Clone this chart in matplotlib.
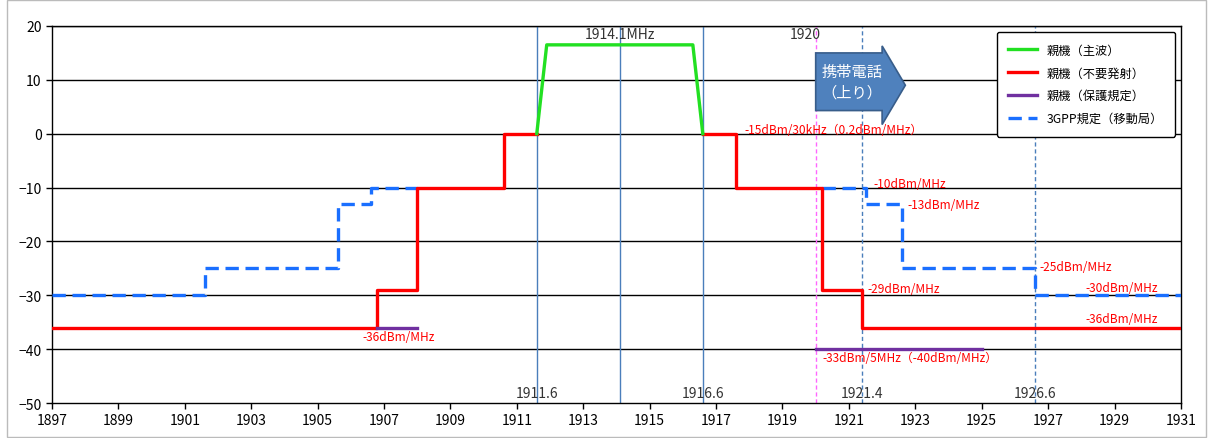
import matplotlib
import matplotlib.pyplot as plt
import matplotlib.patches as mpatches
from matplotlib.lines import Line2D
import numpy as np

plt.rcParams['font.family'] = ['Noto Sans CJK JP', 'DejaVu Sans']
plt.rcParams['font.size'] = 10

# main carrier (green)
main_x = [1911.6, 1911.9, 1916.3, 1916.6]
main_y = [0, 16.5, 16.5, 0]

# spurious emission of base unit (red), step edges and levels
spur_lo_x = [1897, 1906.8, 1908, 1910.6, 1911.6]
spur_lo_y = [-36, -29, -10, 0, 0]
spur_hi_x = [1916.6, 1917.6, 1920.2, 1921.4, 1931]
spur_hi_y = [0, -10, -29, -36, -36]

# protection limit (purple)
prot_segments = [([1906.8, 1908], -36), ([1920, 1925], -40)]

# 3GPP mobile station limit (blue dashed)
gpp_lo_x = [1897, 1901.6, 1905.6, 1906.6, 1908]
gpp_lo_y = [-30, -25, -13, -10, -10]
gpp_hi_x = [1920.2, 1921.5, 1922.6, 1926.6, 1931]
gpp_hi_y = [-10, -13, -25, -30, -30]

# marker frequencies
solid_marks = [1911.6, 1914.1, 1916.6]
dashed_marks = [1921.4, 1926.6]
uplink_start = 1920

labels = ['親機（主波）', '親機（不要発射）', '親機（保護規定）', '3GPP規定（移動局）']
c_green, c_red, c_purple, c_blue = '#22e022', '#ff0000', '#7030a0', '#1a6fff'
c_mark = '#4a7ebb'

fig = plt.figure(figsize=(12.11, 4.39), dpi=100)
ax = fig.add_axes([0.0429, 0.0797, 0.9323, 0.8588])

for y in range(-40, 21, 10):
    ax.axhline(y, color='black', lw=1.0, zorder=1)

for x in solid_marks:
    ax.axvline(x, color=c_mark, lw=1.0, zorder=2)
for x in dashed_marks:
    ax.axvline(x, color=c_mark, lw=1.0, ls=(0, (3, 2)), zorder=2)
ax.axvline(uplink_start, color='#ff66ff', lw=1.0, ls=(0, (3, 2)), zorder=2)

lw = 2.4
ax.plot(spur_lo_x, spur_lo_y, drawstyle='steps-post', color=c_red, lw=lw, zorder=4)
ax.plot(spur_hi_x, spur_hi_y, drawstyle='steps-post', color=c_red, lw=lw, zorder=4)
ax.plot(main_x, main_y, color=c_green, lw=lw, zorder=5)
for xs, lev in prot_segments:
    ax.plot(xs, [lev, lev], color=c_purple, lw=lw, zorder=4)
dash = (0, (4, 2))
ax.plot(gpp_lo_x, gpp_lo_y, drawstyle='steps-post', color=c_blue, lw=lw, ls=dash, zorder=3)
ax.plot(gpp_hi_x, gpp_hi_y, drawstyle='steps-post', color=c_blue, lw=lw, ls=dash, zorder=3)

# frequency labels
gk = dict(ha='center', va='center', color='#333333')
ax.text(1911.6, -48.1, '1911.6', **gk)
ax.text(1916.6, -48.1, '1916.6', **gk)
ax.text(1921.4, -48.1, '1921.4', **gk)
ax.text(1926.6, -48.1, '1926.6', **gk)
ax.text(1914.1, 18.5, '1914.1MHz', **gk)
ax.text(1919.7, 18.5, '1920', **gk)

# red annotations
rk = dict(color=c_red, fontsize=8.6, va='center')
ax.text(1917.85, 0.7, '-15dBm/30kHz（0.2dBm/MHz）', ha='left', **rk)
ax.text(1921.75, -9.3, '-10dBm/MHz', ha='left', **rk)
ax.text(1922.75, -13.2, '-13dBm/MHz', ha='left', **rk)
ax.text(1926.75, -24.6, '-25dBm/MHz', ha='left', **rk)
ax.text(1921.55, -28.8, '-29dBm/MHz', ha='left', **rk)
ax.text(1930.3, -28.6, '-30dBm/MHz', ha='right', **rk)
ax.text(1930.3, -34.4, '-36dBm/MHz', ha='right', **rk)
ax.text(1920.2, -41.6, '-33dBm/5MHz（-40dBm/MHz）', ha='left', **rk)
ax.text(1906.35, -37.7, '-36dBm/MHz', ha='left', **rk)

# uplink arrow
arrow_pts = [(1920.0, 15.0), (1922.0, 15.0), (1922.0, 16.3), (1922.7, 9.0),
             (1922.0, 1.7), (1922.0, 4.3), (1920.0, 4.3)]
ax.add_patch(mpatches.Polygon(arrow_pts, closed=True, facecolor='#4f81bd',
                              edgecolor='#385d8a', lw=1.2, zorder=6))
ax.text(1921.1, 9.6, '携帯電話\n（上り）', ha='center', va='center', color='white',
        fontsize=11, linespacing=1.25, zorder=7)

ax.set_xlim(1897, 1931)
ax.set_ylim(-50, 20)
ax.set_xticks(np.arange(1897, 1932, 2))
ax.set_yticks(np.arange(-50, 21, 10))
ax.tick_params(direction='out', length=4, width=1, colors='black')
for s in ax.spines.values():
    s.set_color('black')
    s.set_linewidth(1.0)

handles = [Line2D([], [], color=c_green, lw=lw),
           Line2D([], [], color=c_red, lw=lw),
           Line2D([], [], color=c_purple, lw=lw),
           Line2D([], [], color=c_blue, lw=lw, ls=dash)]
leg = ax.legend(handles, labels, loc='upper right', bbox_to_anchor=(0.9947, 0.984),
                borderaxespad=0, fontsize=8.8, frameon=True, fancybox=True, framealpha=1,
                edgecolor='black', handlelength=2.3, labelspacing=0.8,
                borderpad=0.95, handletextpad=0.85)
leg.get_frame().set_linewidth(1.0)
leg.set_zorder(10)

fig.patches.append(mpatches.Rectangle((0.006, 0.003), 0.99, 0.994, transform=fig.transFigure,
                                      fill=False, edgecolor='#bbbbbb', lw=1))

plt.savefig('out.png', dpi=100)
